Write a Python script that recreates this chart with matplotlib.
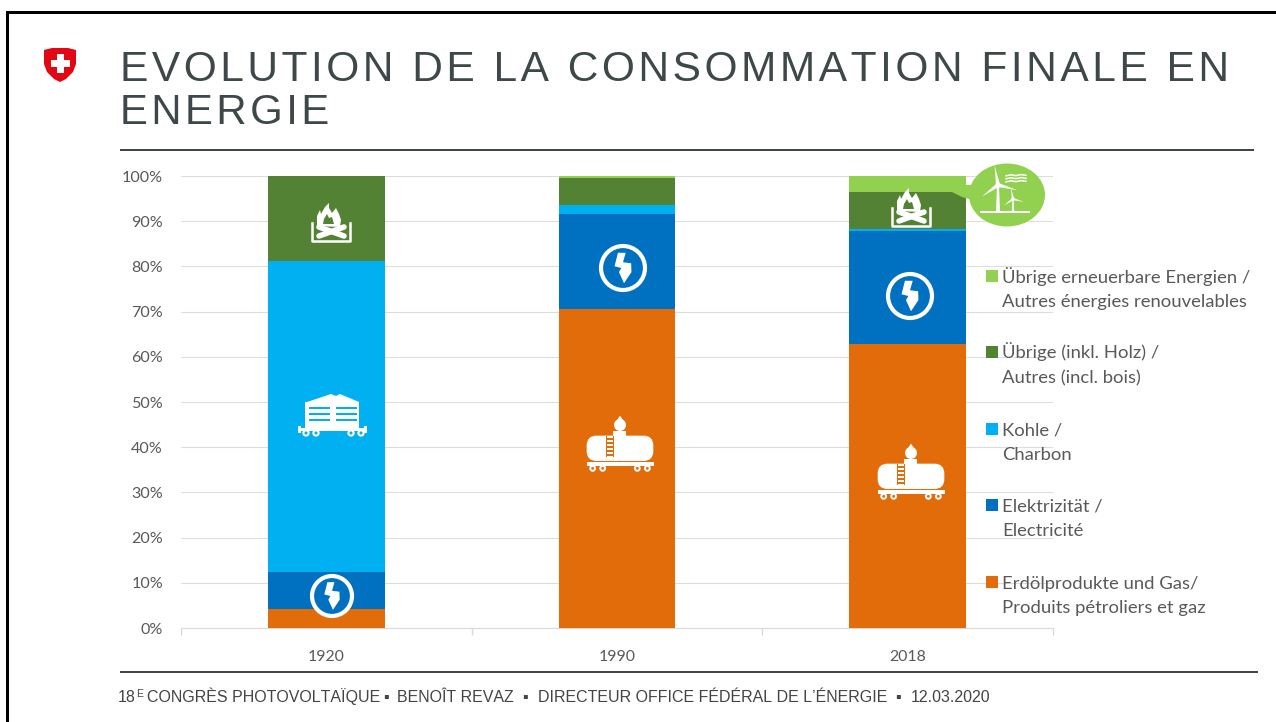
import numpy as np
import matplotlib
matplotlib.use("Agg")
import matplotlib.pyplot as plt
from matplotlib.patches import Rectangle, Circle, Ellipse, Polygon, FancyBboxPatch
from matplotlib.ticker import PercentFormatter

plt.rcParams["text.kerning_factor"] = 20

years = ["1920", "1990", "2018"]
oil = [4.3, 70.6, 62.8]
electricity = [8.1, 21.0, 25.0]
coal = [68.9, 2.0, 0.5]
other = [18.7, 5.9, 8.2]
renewables = [0.0, 0.5, 3.5]
series = [oil, electricity, coal, other, renewables]
colors = ["#E36C0A", "#0070C0", "#00B0F0", "#548235", "#92D050"]
legend_labels = [
    "Erdölprodukte und Gas/\nProduits pétroliers et gaz",
    "Elektrizität /\nElectricité",
    "Kohle /\nCharbon",
    "Übrige (inkl. Holz) /\nAutres (incl. bois)",
    "Übrige erneuerbare Energien /\nAutres énergies renouvelables",
]
title_lines = ["EVOLUTION DE LA CONSOMMATION FINALE EN", "ENERGIE"]
footer_parts = ["CONGRÈS PHOTOVOLTAÏQUE", "▪", "BENOÎT REVAZ", "▪",
                "DIRECTEUR OFFICE FÉDÉRAL DE L’ÉNERGIE", "▪", "12.03.2020"]
footer_x = [147, 383, 397, 522, 537.5, 895, 911]

W, H = 1276, 722
LABEL_FONT = ["Lato", "DejaVu Sans"]
FF = ["Liberation Sans", "DejaVu Sans"]
GREY = "#595959"
HAIR = "\u200a"
fig = plt.figure(figsize=(W / 100, H / 100), dpi=100, facecolor="white")

ax = fig.add_axes([181 / W, 1 - 628 / H, (1053 - 181) / W, (628 - 176) / H])
bottom = np.zeros(3)
x = np.arange(3)
for vals, c in zip(series, colors):
    ax.bar(x, vals, width=0.402, bottom=bottom, color=c, zorder=3)
    bottom += np.array(vals)
ax.set_xlim(-0.5, 2.5)
ax.set_ylim(0, 100)
ax.set_yticks(np.arange(0, 101, 10))
ax.yaxis.set_major_formatter(PercentFormatter(100, decimals=0))
ax.set_xticks(x)
ax.set_xticklabels(years)
ax.set_xticks([-0.5, 0.5, 1.5, 2.5], minor=True)
ax.grid(axis="y", color="#DDDDDD", lw=0.8, zorder=0)
ax.set_axisbelow(True)
for s in ["top", "right", "left"]:
    ax.spines[s].set_visible(False)
ax.spines["bottom"].set_color("#D9D9D9")
ax.tick_params(axis="y", length=0, pad=13, labelsize=11.6, labelcolor=GREY)
ax.tick_params(axis="x", which="major", length=0, pad=16, labelsize=11.4, labelcolor=GREY)
ax.tick_params(axis="x", which="minor", length=5, color="#D9D9D9", width=1)
for t in ax.get_xticklabels() + ax.get_yticklabels():
    t.set_family(LABEL_FONT)

ov = fig.add_axes([0, 0, 1, 1], facecolor="none", zorder=10)
ov.set_xlim(0, W)
ov.set_ylim(H, 0)
ov.axis("off")

# slide frame and rules
ov.add_patch(Rectangle((6, 11), W, 2.6, color="black", lw=0))
ov.add_patch(Rectangle((6, 11), 2.6, H, color="black", lw=0))
ov.add_patch(Rectangle((120, 149), 1134, 2, color="#3F4849", lw=0))
ov.add_patch(Rectangle((120, 670.5), 1138, 2.2, color="#3F4849", lw=0))

# title (letter-spaced with hair spaces), footer
for line, by, fs in zip(title_lines, [81, 123.5], [30.65, 30.2]):
    ov.text(120.5, by, HAIR.join(line), family=FF, fontsize=fs, color="#3F4849", va="baseline", ha="left")
ov.text(118, 702, "18", family=FF, fontsize=11.5, color="#444444")
ov.text(136, 697, "E", family=FF, fontsize=7.5, color="#444444")
for part, px in zip(footer_parts, footer_x):
    ov.text(px, 702, part, family=FF, fontsize=11.5, color="#444444")

# legend
legend_y = [582, 505, 429, 352, 276]
for lab, c, y in zip(legend_labels, colors, legend_y):
    ov.add_patch(Rectangle((985.5, y - 6), 12, 12, color=c, lw=0))
    ov.text(1002, y + 31, lab, family=LABEL_FONT, fontsize=13.3, color=GREY,
            va="baseline", ha="left", linespacing=1.65)

WHITE = "white"

def shield():
    pts = [(44, 50), (52, 48), (68, 48), (76, 50), (76, 64), (73, 72), (66, 79), (60, 82),
           (54, 79), (47, 72), (44, 64)]
    ov.add_patch(Polygon(pts, closed=True, color="#E30613", lw=0))
    ov.add_patch(Rectangle((56.5, 54), 7, 19, color=WHITE, lw=0))
    ov.add_patch(Rectangle((50.5, 60), 19, 7, color=WHITE, lw=0))

def bolt(cx, cy, r, backing):
    s = r / 65.0
    ov.add_patch(Circle((cx, cy), r, fc=backing, ec=WHITE, lw=3.0))
    pts = [(85, 55), (108, 55), (100, 83), (124, 86), (125, 112), (103, 145), (88, 112), (95, 100), (75, 95)]
    pts = [(cx + (px - 100) * s, cy + (py - 100) * s) for px, py in pts]
    ov.add_patch(Polygon(pts, closed=True, color=WHITE, lw=0))

def wagon(dx=0, dy=0):
    blue = colors[2]
    ov.add_patch(Polygon([(307 + dx, 402 + dy), (331 + dx, 394 + dy), (336 + dx, 396 + dy), (340 + dx, 394 + dy),
                          (359 + dx, 402 + dy)], closed=True, color=WHITE, lw=0))
    ov.add_patch(Rectangle((305 + dx, 402 + dy), 54, 28, color=WHITE, lw=0))
    for yy in (407, 413, 419):
        ov.add_patch(Rectangle((309 + dx, yy + dy), 21, 2.2, color=blue, lw=0))
        ov.add_patch(Rectangle((336 + dx, yy + dy), 21, 2.2, color=blue, lw=0))
    ov.add_patch(Rectangle((298 + dx, 428 + dy), 69, 3, color=WHITE, lw=0))
    ov.add_patch(Rectangle((298 + dx, 426 + dy), 3, 7, color=WHITE, lw=0))
    ov.add_patch(Rectangle((364 + dx, 426 + dy), 3, 7, color=WHITE, lw=0))
    for wx in (306, 316, 351, 361):
        ov.add_patch(Circle((wx + dx, 433 + dy), 2.6, fc=blue, ec=WHITE, lw=1.5))

def tanker(dx, dy):
    orange = colors[0]
    def P(a, b):
        return 570 + a / 3 + dx, 405 + b / 3 + dy
    ov.add_patch(FancyBboxPatch(P(50, 92), 200 / 3, 76 / 3, boxstyle="round,pad=0,rounding_size=10",
                                color=WHITE, lw=0))
    ov.add_patch(Rectangle(P(130, 78), 38 / 3, 16 / 3, color=WHITE, lw=0))
    ov.add_patch(Circle(P(150, 60), 6, color=WHITE, lw=0))
    ov.add_patch(Polygon([P(150, 32), P(134, 55), P(166, 55)], closed=True, color=WHITE, lw=0))
    ov.add_patch(Rectangle(P(108, 92), 1.1, 64 / 3, color=orange, lw=0))
    ov.add_patch(Rectangle(P(128, 92), 1.1, 64 / 3, color=orange, lw=0))
    for b in range(100, 156, 12):
        ov.add_patch(Rectangle(P(108, b), 7.5, 1.2, color=orange, lw=0))
    ov.add_patch(Rectangle(P(50, 172), 202 / 3, 4, color=WHITE, lw=0))
    for a in (68, 98, 202, 232):
        ov.add_patch(Circle(P(a, 190), 2.4, fc=orange, ec=WHITE, lw=1.4))

def fire(dx, dy, bg):
    pts = [(317, 226), (317, 216), (320, 210), (321, 214), (325, 207), (329, 203), (329, 208),
           (332, 213), (336, 208), (339, 214), (341, 220), (340, 227)]
    ov.add_patch(Polygon([(a + dx, b + dy) for a, b in pts], closed=True, color=WHITE, lw=0))
    inner = [(323, 224), (324, 219), (327, 214), (329, 218), (332, 217), (334, 224)]
    ov.add_patch(Polygon([(a + dx, b + dy) for a, b in inner], closed=True, color=bg, lw=0))
    ov.plot([319 + dx, 344 + dx], [227 + dy, 236 + dy], color=WHITE, lw=4.0, solid_capstyle="round")
    ov.plot([344 + dx, 319 + dx], [227 + dy, 236 + dy], color=WHITE, lw=4.0, solid_capstyle="round")
    ov.plot([312 + dx, 312 + dx, 350 + dx, 350 + dx], [223 + dy, 241 + dy, 241 + dy, 223 + dy],
            color=WHITE, lw=1.8, solid_joinstyle="round")

def turbine(cx, cy, base, L, lw):
    ov.add_patch(Polygon([(cx - lw * 0.5, cy), (cx + lw * 0.5, cy), (cx + lw, base), (cx - lw, base)],
                         closed=True, color=WHITE, lw=0))
    for ang in (100, 216, 345):
        t = np.radians(ang)
        tip = (cx + L * np.cos(t), cy - L * np.sin(t))
        n = (np.sin(t) * lw, np.cos(t) * lw)
        ov.add_patch(Polygon([(cx + n[0], cy + n[1]), tip, (cx - n[0], cy - n[1])], closed=True, color=WHITE, lw=0))
    ov.add_patch(Circle((cx, cy), lw * 1.3, fc=WHITE, ec="none"))

def wind():
    g = colors[4]
    ov.add_patch(Ellipse((1007, 195), 76, 63, color=g, lw=0))
    ov.add_patch(Polygon([(966, 185), (974, 185), (986, 176), (985, 205), (973, 200), (962, 197), (952, 192), (966, 192)],
                         closed=True, color=g, lw=0))
    ov.add_patch(Rectangle((980, 211), 50, 1.8, color=WHITE, lw=0))
    turbine(998, 185, 212, 20, 2.0)
    turbine(1013, 199, 212, 11, 1.2)
    for yy in (175, 178, 181):
        xs = [1006, 1011, 1016, 1021, 1026]
        off = [0.8, -0.2, 0.6, -0.4, 0.3]
        ov.plot(xs, [yy + o for o in off], color=WHITE, lw=1.1)

shield()
bolt(332, 596, 20, colors[1])
bolt(623, 268, 22, colors[1])
bolt(910, 296, 22, colors[1])
wagon()
tanker(0, 0)
tanker(291, 28)
fire(0, 0, colors[3])
fire(580, -15, colors[3])
wind()

fig.savefig("out.png", dpi=100, facecolor="white")
